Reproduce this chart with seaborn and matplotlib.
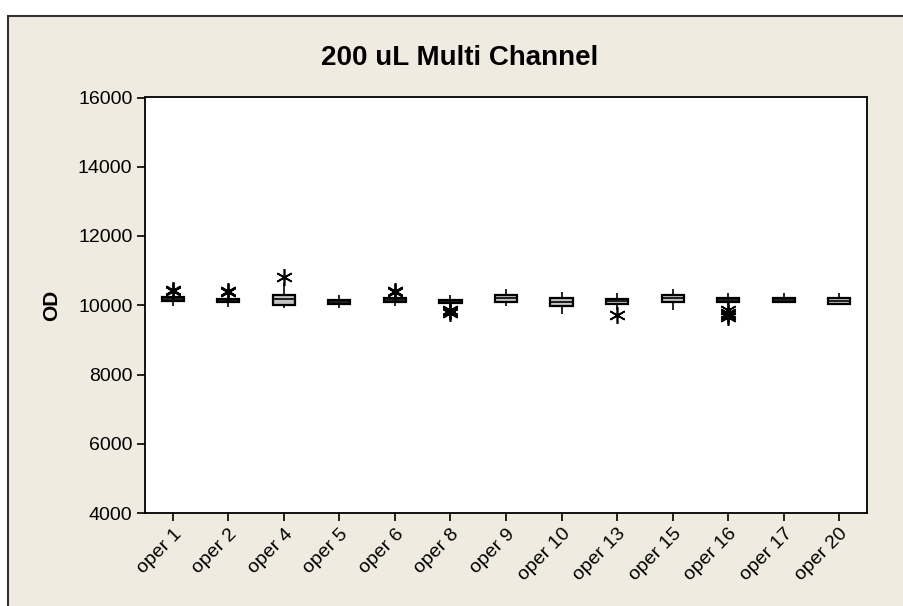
import matplotlib
matplotlib.use("Agg")
import matplotlib.pyplot as plt
from matplotlib.patches import Rectangle
import seaborn as sns
import pandas as pd

# Operators in display order
operators = ["oper 1", "oper 2", "oper 4", "oper 5", "oper 6", "oper 8", "oper 9",
             "oper 10", "oper 13", "oper 15", "oper 16", "oper 17", "oper 20"]

# OD readings per operator (200 uL multi-channel pipette)
od_oper1 = [9990, 10100, 10130, 10160, 10180, 10200, 10230, 10400, 10430]
od_oper2 = [9940, 10050, 10090, 10120, 10140, 10160, 10190, 10370, 10420]
od_oper4 = [9930, 9990, 10020, 10100, 10180, 10250, 10310, 10640, 10830]
od_oper5 = [9910, 10000, 10030, 10060, 10090, 10120, 10160, 10240, 10310]
od_oper6 = [9965, 10060, 10100, 10130, 10150, 10170, 10200, 10380, 10420]
od_oper8 = [9780, 9820, 9860, 9960, 10060, 10080, 10090, 10100, 10110,
            10120, 10130, 10150, 10160, 10190, 10220, 10260, 10300]
od_oper9 = [9965, 10050, 10100, 10160, 10210, 10260, 10310, 10400, 10480]
od_oper10 = [9750, 9900, 9965, 10020, 10080, 10150, 10215, 10300, 10390]
od_oper13 = [9720, 9870, 10030, 10070, 10110, 10150, 10190, 10270, 10350]
od_oper15 = [9870, 10020, 10100, 10160, 10210, 10260, 10310, 10400, 10480]
od_oper16 = [9650, 9720, 9790, 9860, 10010, 10100, 10110, 10120, 10130, 10150, 10160,
             10170, 10180, 10190, 10200, 10210, 10230, 10260, 10290, 10320, 10350]
od_oper17 = [10060, 10080, 10100, 10130, 10150, 10180, 10210, 10280, 10350]
od_oper20 = [10005, 10020, 10040, 10080, 10120, 10160, 10195, 10280, 10350]

readings = [od_oper1, od_oper2, od_oper4, od_oper5, od_oper6, od_oper8, od_oper9,
            od_oper10, od_oper13, od_oper15, od_oper16, od_oper17, od_oper20]

y_ticks = [4000, 6000, 8000, 10000, 12000, 14000, 16000]

df = pd.DataFrame(
    [(op, v) for op, vals in zip(operators, readings) for v in vals],
    columns=["operator", "OD"],
)

sns.set_theme(style="white")
plt.rcParams["font.family"] = ["Liberation Sans", "DejaVu Sans"]
plt.rcParams.update({"text.color": "black", "axes.labelcolor": "black",
                     "xtick.color": "black", "ytick.color": "black"})

bg = "#EFEBE1"
fig = plt.figure(figsize=(9.04, 6.06), dpi=100, facecolor="white")
# panel background with its frame line (left and top edges only on the canvas)
fig.patches.append(Rectangle((8 / 904, -0.1), 1.2, 1 - 16 / 606 + 0.1,
                             transform=fig.transFigure, facecolor=bg,
                             edgecolor="#333333", linewidth=1.5, zorder=-10))

ax = fig.add_axes([145 / 904, 1 - 513 / 606, (867 - 145) / 904, (513 - 97.5) / 606])
ax.set_facecolor("white")

sns.boxplot(
    data=df, x="operator", y="OD", order=operators, ax=ax,
    width=0.4, color="#C4C4C4", whis=1.5, showcaps=False,
    linecolor="black", linewidth=1.6,
    boxprops=dict(facecolor="#C4C4C4", edgecolor="black"),
    medianprops=dict(color="black", linewidth=1.2),
    whiskerprops=dict(color="black", linewidth=1.2),
    flierprops=dict(marker=(6, 2, 0), markersize=12, markeredgecolor="black",
                    markerfacecolor="black", markeredgewidth=1.2),
)

ax.set_ylim(4000, 16000)
ax.set_xlim(-0.5, len(operators) - 0.5)
ax.set_yticks(y_ticks)
ax.set_yticklabels([str(t) for t in y_ticks], fontsize=14, color="black")
ax.set_xticks(range(len(operators)))
ax.set_xticklabels(operators, rotation=45, ha="right", rotation_mode="anchor",
                   fontsize=14, color="black")
ax.tick_params(axis="both", direction="out", length=6, width=1.2, color="black",
               bottom=True, left=True, pad=3)
for s in ax.spines.values():
    s.set_color("black")
    s.set_linewidth(1.3)

ax.set_xlabel("")
ax.set_ylabel("OD", fontsize=15, fontweight="bold", labelpad=12, color="black")
fig.text(0.508, 1 - 58 / 606, "200 uL Multi Channel", ha="center", va="center",
         fontsize=20, fontweight="bold", color="black")

fig.savefig("out.png", dpi=100, facecolor=fig.get_facecolor())
